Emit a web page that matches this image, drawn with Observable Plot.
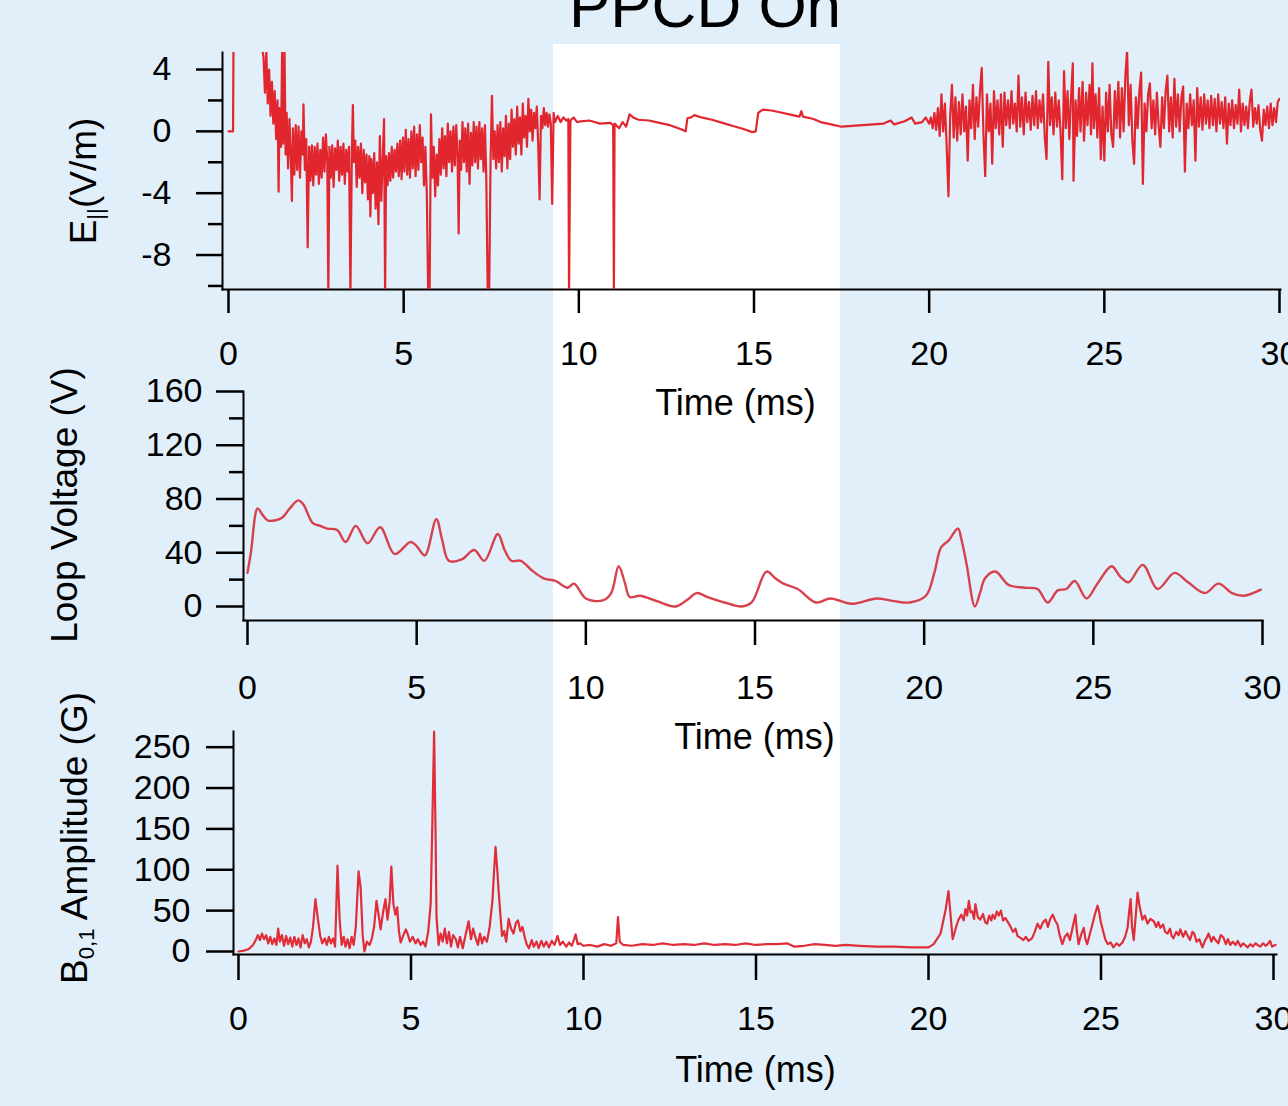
<!DOCTYPE html>
<html><head><meta charset="utf-8">
<script src="https://cdn.jsdelivr.net/npm/d3@7"></script>
<script src="https://cdn.jsdelivr.net/npm/@observablehq/plot@0.6"></script>
<style>
html,body{margin:0;padding:0;}
body{width:1288px;height:1106px;overflow:hidden;background:#e1effb;font-family:"Liberation Sans",Arial,sans-serif;}
#wrap{position:relative;width:1288px;height:1106px;overflow:hidden;}
#band{position:absolute;left:553px;top:44px;width:287px;height:908px;background:#fff;}
.p{position:absolute;left:0;top:0;}
.ylab{position:absolute;transform:translate(-50%,-50%) rotate(-90deg);white-space:nowrap;line-height:1;color:#000;font-size:37px;}
.ylab sub{font-size:0.6em;line-height:0;vertical-align:-0.32em;}
#title{position:absolute;left:705px;top:-25px;transform:translateX(-50%);font-size:62px;line-height:1;white-space:nowrap;color:#000;}
</style></head>
<body><div id="wrap">
<div id="band"></div>
<div id="title">PPCD On</div>
<div class="ylab" style="left:83px;top:181px;">E<sub>||</sub>(V/m)</div>
<div class="ylab" style="left:64px;top:505px;">Loop Voltage (V)</div>
<div class="ylab" style="left:74px;top:838px;">B<sub>0,1</sub> Amplitude (G)</div>
</div>
<script>
const timeTicks = [0,5,10,15,20,25,30];
const eTicks = [4,0,-4,-8];
const eMinor = [2,-2,-6,-10];
const vTicks = [0,40,80,120,160];
const vMinor = [20,60,100,140];
const bTicks = [0,50,100,150,200,250];

// E_parallel (V/m) vs time (ms)
const eField = [
[0,0],[0.13,0],[0.15,9],[0.9,9],[0.97,5.2],
[1.00,4.8],[1.04,2.5],[1.08,5.2],[1.12,1.8],[1.16,4.0],[1.20,1.0],[1.24,3.2],[1.28,0.5],[1.32,2.6],[1.36,-0.5],
[1.40,2.0],[1.43,-3.9],[1.46,1.5],[1.50,-1.0],[1.53,5.2],[1.56,-0.8],[1.60,5.2],[1.63,-1.5],[1.66,1.2],[1.70,-2.4],
[1.74,0.8],[1.78,-1.8],[1.81,-4.5],[1.84,0.2],[1.88,-2.8],[1.92,0.4],[1.96,-2.5],[2.00,0.3],[2.04,-3.0],[2.08,0.0],
[2.12,-1.5],[2.14,1.75],[2.18,-2.5],[2.22,-0.5],[2.26,-7.5],[2.30,-1.0],[2.34,-3.2],[2.38,-0.9],[2.42,-3.5],[2.46,-1.0],
[2.50,-2.8],[2.54,-0.8],[2.58,-3.4],[2.62,-1.2],[2.66,-3.0],[2.70,-0.4],[2.74,-2.6],[2.78,-0.2],[2.82,-2.0],[2.85,-10.5],
[2.88,-1.0],[2.92,-3.0],[2.96,-0.9],[3.00,-3.6],[3.04,-1.1],[3.08,-2.5],[3.12,-0.6],[3.16,-3.2],[3.20,-1.0],[3.24,-2.8],
[3.28,-0.8],[3.32,-3.4],[3.36,-1.2],[3.40,-2.6],[3.44,-1.0],[3.48,-10.5],[3.52,-1.5],[3.55,1.7],[3.58,-2.0],[3.62,-0.6],
[3.66,-3.6],[3.70,-1.0],[3.74,-3.0],[3.78,-0.8],[3.82,-4.0],[3.86,-1.2],[3.90,-3.3],[3.94,-1.5],[3.98,-4.4],[4.02,-1.6],
[4.05,-5.5],[4.08,-1.8],[4.12,-4.0],[4.16,-1.4],[4.20,-5.0],[4.24,-2.0],[4.28,-6.0],[4.32,-0.3],[4.36,-4.5],[4.40,-1.8],
[4.44,0.8],[4.47,-10.5],[4.50,-1.6],[4.54,-3.5],[4.58,-1.4],[4.62,-3.2],[4.66,-1.0],[4.70,-3.0],[4.74,-1.2],[4.78,-2.6],
[4.82,-0.8],[4.86,-2.9],[4.90,-0.6],[4.94,-3.1],[4.98,-0.4],[5.02,-2.6],[5.06,0.1],[5.10,-2.8],[5.14,-0.5],[5.18,-3.0],
[5.22,0.0],[5.26,-2.4],[5.30,0.3],[5.34,-2.9],[5.38,-0.2],[5.42,-2.5],[5.46,0.4],[5.50,-2.0],[5.54,-0.4],[5.58,-3.5],
[5.62,-1.0],[5.66,-4.0],[5.70,-10.5],[5.74,-10.5],[5.78,1.1],[5.82,-3.0],[5.86,-1.0],[5.90,-4.2],[5.94,-1.5],[5.98,-3.5],
[6.02,-0.5],[6.06,-2.8],[6.10,0.2],[6.14,-2.4],[6.18,-0.3],[6.22,-2.9],[6.26,0.5],[6.30,-2.0],[6.34,0.0],[6.38,-2.6],
[6.42,0.3],[6.46,-2.2],[6.50,0.4],[6.54,-1.8],[6.57,-6.6],[6.60,-0.6],[6.64,-2.5],[6.68,0.6],[6.72,-2.0],[6.76,0.2],
[6.80,-2.6],[6.84,0.5],[6.88,-3.4],[6.92,-0.1],[6.96,-2.2],[7.00,0.6],[7.04,-2.0],[7.08,0.3],[7.12,-2.4],[7.16,0.6],
[7.20,-1.8],[7.24,0.2],[7.28,-2.6],[7.32,0.4],[7.36,-3.2],[7.40,-10.5],[7.44,-10.5],[7.48,-2.0],[7.52,2.3],[7.56,-1.8],
[7.60,0.0],[7.64,-2.4],[7.68,0.4],[7.72,-2.0],[7.76,0.6],[7.80,-2.6],[7.84,0.2],[7.88,-1.6],[7.92,1.0],[7.96,-2.4],
[8.00,0.5],[8.04,-1.8],[8.08,1.4],[8.12,-1.0],[8.16,0.8],[8.20,-1.5],[8.24,1.6],[8.28,-0.8],[8.32,0.9],[8.36,-1.5],
[8.40,1.8],[8.44,-0.4],[8.48,1.0],[8.52,-1.0],[8.56,2.1],[8.60,0.0],[8.64,1.4],[8.68,-0.6],[8.72,1.2],[8.76,0.2],
[8.80,1.6],[8.84,-0.8],[8.88,-4.4],[8.92,1.0],[8.96,0.2],[9.00,1.5],[9.04,0.4],[9.08,1.2],[9.12,0.3],[9.16,1.1],
[9.20,0.5],[9.24,-4.7],[9.28,1.2],[9.32,0.6],[9.40,1.0],[9.48,0.6],[9.56,0.9],[9.64,0.7],[9.70,0.8],[9.72,-10.5],
[9.76,0.7],[9.85,0.9],[9.95,0.6],
[10.05,0.65],[10.3,0.7],[10.6,0.5],[10.9,0.55],[10.98,0.4],[11.0,-10.5],[11.02,0.5],[11.15,0.2],[11.25,0.6],[11.35,0.3],
[11.45,1.1],[11.55,0.9],[11.7,0.75],[12.0,0.7],[12.3,0.55],[12.6,0.4],[12.9,0.15],[13.05,0.0],[13.1,0.85],[13.2,0.9],
[13.3,1.05],[13.5,0.9],[13.8,0.75],[14.1,0.55],[14.4,0.35],[14.7,0.15],[14.95,-0.05],[15.05,0.0],[15.12,1.2],[15.25,1.4],
[15.5,1.35],[15.8,1.2],[16.1,1.05],[16.3,0.95],[16.35,1.3],[16.4,0.95],[16.7,0.8],[16.9,0.6],[17.2,0.45],[17.5,0.3],
[17.8,0.35],[18.1,0.4],[18.4,0.45],[18.7,0.5],[18.9,0.7],[19.0,0.45],[19.3,0.65],[19.5,0.9],[19.6,0.5],[19.8,0.6],
[19.9,0.9],[20.0,0.5],
[20.05,0.9],[20.10,0.2],[20.15,1.2],[20.20,0.1],[20.25,1.5],[20.30,-0.3],[20.35,2.4],[20.40,0.0],[20.45,1.8],[20.50,-1.0],
[20.55,-4.2],[20.60,1.0],[20.65,3.0],[20.70,-0.4],[20.75,2.2],[20.80,-0.6],[20.85,1.9],[20.90,-0.2],[20.95,2.4],[21.00,0.0],
[21.05,1.6],[21.10,-1.9],[21.15,2.0],[21.20,0.2],[21.25,3.0],[21.30,-0.5],[21.35,2.2],[21.40,0.3],[21.45,2.6],[21.50,4.1],
[21.55,-0.2],[21.60,-2.9],[21.65,2.4],[21.70,0.0],[21.75,1.8],[21.80,-2.1],[21.85,2.6],[21.90,0.2],[21.95,2.0],[22.00,-0.2],
[22.05,2.4],[22.10,-1.0],[22.15,2.5],[22.20,0.4],[22.25,2.0],[22.30,0.2],[22.35,2.6],[22.40,0.5],[22.45,1.8],[22.50,0.0],
[22.55,3.6],[22.60,0.3],[22.65,2.2],[22.70,-0.2],[22.75,2.5],[22.80,0.6],[22.85,1.9],[22.90,0.1],[22.95,2.3],[23.00,0.4],
[23.05,2.6],[23.10,0.2],[23.15,2.0],[23.20,0.6],[23.25,2.4],[23.30,-0.4],[23.35,-1.8],[23.40,4.5],[23.45,0.4],[23.50,2.2],
[23.55,-0.2],[23.60,2.5],[23.65,0.3],[23.70,2.0],[23.75,0.0],[23.80,-3.1],[23.85,3.9],[23.90,0.2],[23.95,2.6],[24.00,-0.5],
[24.05,2.2],[24.10,4.4],[24.12,-3.2],[24.18,2.0],[24.22,-0.3],[24.28,2.8],[24.32,0.0],[24.38,3.2],[24.42,-0.6],[24.48,2.5],
[24.52,0.4],[24.58,3.0],[24.62,-0.2],[24.66,4.4],[24.70,0.2],[24.75,2.4],[24.80,-0.4],[24.85,2.8],[24.90,-1.8],[24.95,1.6],
[25.00,-1.9],[25.05,2.5],[25.10,0.0],[25.15,3.0],[25.20,-0.2],[25.25,-1.0],[25.30,2.6],[25.35,0.2],[25.40,3.2],[25.45,-0.4],
[25.50,2.8],[25.55,0.0],[25.60,3.6],[25.65,5.2],[25.70,0.4],[25.75,3.0],[25.80,-0.6],[25.85,-2.1],[25.90,2.2],[25.95,0.2],
[26.00,2.6],[26.05,3.8],[26.10,-3.4],[26.15,1.8],[26.20,0.0],[26.25,2.4],[26.30,3.1],[26.35,0.2],[26.40,2.0],[26.45,-0.2],
[26.50,2.5],[26.55,0.4],[26.60,-1.0],[26.65,2.2],[26.70,0.2],[26.75,2.6],[26.80,3.6],[26.85,0.0],[26.90,2.2],[26.95,-0.4],
[27.00,3.4],[27.05,0.3],[27.10,2.4],[27.15,0.0],[27.20,2.2],[27.25,2.9],[27.30,-2.6],[27.35,1.8],[27.40,0.2],[27.45,2.4],
[27.50,0.4],[27.55,2.0],[27.60,-1.9],[27.65,2.8],[27.70,0.3],[27.75,2.2],[27.80,0.1],[27.85,2.4],[27.90,0.5],[27.95,2.0],
[28.00,0.2],[28.05,2.3],[28.10,0.4],[28.15,2.1],[28.20,0.0],[28.25,2.4],[28.30,0.5],[28.35,1.9],[28.40,0.2],[28.45,2.2],
[28.50,-0.8],[28.55,1.8],[28.60,0.4],[28.65,2.0],[28.70,0.2],[28.75,1.7],[28.80,0.5],[28.85,2.7],[28.90,0.0],[28.95,1.8],
[29.00,0.4],[29.05,1.6],[29.10,0.2],[29.15,1.9],[29.20,2.7],[29.25,0.3],[29.30,1.5],[29.35,0.5],[29.40,1.7],[29.45,0.1],
[29.50,-0.6],[29.55,1.4],[29.60,0.4],[29.65,1.6],[29.70,0.2],[29.75,1.8],[29.80,0.4],[29.85,1.5],[29.90,0.6],[29.95,1.9],
[30.00,2.1]
];

// Loop voltage (V) vs time (ms)
const loopV = [
[0,25],[0.1,40],[0.3,73],[0.45,68],[0.6,64],[0.8,64],[1.02,66],[1.25,73],[1.5,79],[1.65,76],[1.93,62],[2.15,60],
[2.35,58],[2.65,57],[2.9,48],[3.2,60],[3.55,47],[3.92,59],[4.35,39],[4.82,48],[5.0,45],[5.24,38],[5.58,65],[5.75,50],
[5.95,34],[6.33,35],[6.7,42],[7.0,34],[7.4,54],[7.6,42],[7.8,34],[8.08,34],[8.4,27],[8.75,21],[9.1,19],[9.46,14],
[9.65,17],[10.0,6],[10.5,4.5],[10.75,10],[10.97,30],[11.15,18],[11.3,7],[11.6,8],[12.1,4],[12.65,0],[13.0,5],[13.27,10],
[13.6,7],[14.1,3],[14.6,0],[14.9,3],[15.34,26],[15.6,21],[15.84,17],[16.26,13],[16.8,3],[17.23,6],[17.85,2],[18.6,6],
[19.1,4],[19.57,3],[20.05,8],[20.3,25],[20.5,44],[20.72,49],[21.0,58],[21.1,50],[21.25,32],[21.5,0],[21.65,10],[21.8,21],
[22.1,26],[22.5,16],[22.97,14],[23.35,13],[23.65,3],[23.95,12],[24.2,13],[24.45,19],[24.8,6],[25.12,17],[25.54,30],[25.8,22],
[26.04,18],[26.46,31],[26.9,13],[27.4,25],[27.8,18],[28.3,10],[28.7,17],[29.1,10],[29.45,8],[29.95,12.5]
];

// B_{0,1} amplitude (G) vs time (ms)
const bAmp = [
[0,0],[0.15,1],[0.3,3],[0.42,8],[0.5,14],[0.56,20],[0.62,14],[0.68,22],[0.74,15],[0.8,20],[0.86,10],[0.92,18],[0.98,9],
[1.04,16],[1.1,8],[1.15,28],[1.2,12],[1.26,20],[1.32,7],[1.38,19],[1.44,9],[1.5,17],[1.56,6],[1.62,18],[1.68,8],[1.74,16],
[1.8,5],[1.86,20],[1.92,10],[1.98,15],[2.04,5],[2.1,12],[2.16,30],[2.23,64],[2.3,40],[2.37,19],[2.43,10],[2.5,16],[2.56,8],
[2.62,18],[2.68,10],[2.74,16],[2.8,6],[2.87,105],[2.93,40],[2.99,8],[3.05,18],[3.1,6],[3.16,15],[3.22,4],[3.28,18],[3.34,8],
[3.4,30],[3.48,98],[3.54,78],[3.6,20],[3.65,0],[3.72,12],[3.8,8],[3.86,15],[3.93,30],[4.0,62],[4.06,45],[4.12,27],[4.19,48],
[4.26,64],[4.32,39],[4.38,60],[4.43,104],[4.49,58],[4.55,45],[4.6,54],[4.65,25],[4.7,11],[4.78,20],[4.85,27],[4.9,22],[4.97,12],
[5.05,18],[5.13,10],[5.2,15],[5.28,8],[5.35,12],[5.42,6],[5.5,25],[5.57,58],[5.62,160],[5.67,269],[5.71,150],[5.74,42],[5.8,8],
[5.86,22],[5.92,12],[5.98,28],[6.04,10],[6.1,24],[6.16,6],[6.22,20],[6.3,15],[6.36,5],[6.42,18],[6.5,4],[6.58,20],[6.67,37],
[6.74,15],[6.8,28],[6.87,17],[6.94,8],[7.0,22],[7.06,10],[7.12,18],[7.2,12],[7.28,30],[7.36,62],[7.41,100],[7.45,128],[7.5,100],
[7.54,74],[7.6,40],[7.64,19],[7.7,25],[7.76,12],[7.83,40],[7.9,28],[7.97,22],[8.04,35],[8.1,38],[8.17,25],[8.23,30],[8.3,17],
[8.36,8],[8.42,4],[8.5,14],[8.56,6],[8.64,12],[8.7,4],[8.78,13],[8.85,6],[8.92,12],[9.0,5],[9.08,13],[9.16,8],[9.25,19],
[9.32,8],[9.4,12],[9.5,6],[9.58,11],[9.66,7],[9.72,14],[9.77,21],[9.83,9],[9.9,10],[10.0,7],[10.2,8],[10.4,6],[10.6,9],
[10.8,7],[10.95,10],[11.0,42],[11.05,12],[11.15,8],[11.4,7],[11.7,9],[12.0,8],[12.3,10],[12.6,8],[12.9,9],[13.2,8],[13.5,10],
[13.8,8],[14.1,9],[14.4,8],[14.7,10],[15.0,8],[15.3,9],[15.6,9],[15.9,10],[16.1,6],[16.4,7],[16.7,9],[17.0,8],[17.3,7],
[17.6,8],[18.0,7],[18.5,6],[19.0,6],[19.5,5],[20.0,5],[20.15,9],[20.35,22],[20.5,52],[20.58,74],[20.7,15],[20.8,30],[20.87,39],
[20.95,45],[21.02,38],[21.07,52],[21.12,44],[21.17,62],[21.22,48],[21.27,49],[21.32,40],[21.36,58],[21.43,42],[21.5,39],
[21.58,46],[21.64,36],[21.7,34],[21.76,44],[21.82,38],[21.86,45],[21.92,40],[21.98,49],[22.04,44],[22.1,50],[22.16,38],
[22.23,41],[22.3,36],[22.37,31],[22.45,24],[22.52,28],[22.58,19],[22.66,17],[22.75,14],[22.82,18],[22.9,13],[23.0,16],
[23.08,24],[23.16,34],[23.24,28],[23.32,36],[23.4,39],[23.46,30],[23.53,40],[23.6,45],[23.67,38],[23.74,33],[23.8,20],
[23.88,9],[23.95,18],[24.03,22],[24.1,14],[24.18,30],[24.26,45],[24.3,25],[24.35,9],[24.42,20],[24.5,29],[24.55,15],[24.6,9],
[24.68,22],[24.75,33],[24.82,45],[24.9,56],[24.95,48],[24.99,37],[25.06,25],[25.13,14],[25.2,9],[25.28,11],[25.36,5],
[25.45,10],[25.53,7],[25.62,11],[25.7,18],[25.77,29],[25.82,50],[25.86,64],[25.9,30],[25.95,14],[26.0,40],[26.06,72],
[26.12,55],[26.2,39],[26.27,44],[26.35,34],[26.43,40],[26.53,37],[26.6,30],[26.66,36],[26.72,29],[26.8,33],[26.86,24],
[26.93,22],[27.0,28],[27.05,19],[27.1,16],[27.18,24],[27.25,20],[27.3,27],[27.38,18],[27.45,25],[27.5,20],[27.58,14],
[27.65,24],[27.7,22],[27.77,12],[27.85,15],[27.94,5],[28.02,14],[28.08,18],[28.12,22],[28.2,12],[28.26,18],[28.32,14],
[28.4,10],[28.47,20],[28.55,17],[28.62,9],[28.68,15],[28.75,8],[28.82,12],[28.9,8],[28.96,13],[29.05,6],[29.12,10],[29.2,7],
[29.25,5],[29.33,9],[29.4,6],[29.48,10],[29.54,8],[29.62,6],[29.7,10],[29.77,7],[29.83,9],[29.9,13],[29.96,6],[30.06,8]
];

const FONT = '"Liberation Sans", Arial, Helvetica, sans-serif';
const fmt = d => String(d);
const base = {width: 1288, height: 1106, style: {background: "transparent", fontFamily: FONT, color: "black", overflow: "visible"}};

function panel(cfg) {
  const marks = [
    Plot.frame({anchor: "left", stroke: "black", strokeWidth: 2}),
    Plot.frame({anchor: "bottom", stroke: "black", strokeWidth: 2}),
    Plot.axisY({ticks: cfg.yTicks, tickSize: cfg.ySize, tickPadding: cfg.yPad, tickFormat: fmt, fontSize: 34, strokeWidth: 2.5, stroke: "black", fill: "black", label: null}),
    Plot.axisX({ticks: timeTicks, tickSize: cfg.xSize, tickPadding: cfg.xPad, tickFormat: fmt, fontSize: 34, strokeWidth: 2.5, stroke: "black", fill: "black", label: null}),
    Plot.text(["Time (ms)"], {text: d => d, frameAnchor: "bottom", lineAnchor: "middle", dx: cfg.labDx, dy: cfg.labDy, fontSize: 36, fill: "black"}),
    Plot.line(cfg.data, {x: d => d[0], y: d => d[1], stroke: cfg.color, strokeWidth: cfg.sw, curve: cfg.curve || "linear", clip: cfg.clip || false})
  ];
  if (cfg.yMinor) marks.splice(3, 0, Plot.axisY({ticks: cfg.yMinor, tickSize: 14, strokeWidth: 2.5, stroke: "black", text: null, label: null}));
  const p = Plot.plot({
    ...base,
    marginLeft: cfg.ml, marginRight: cfg.mr, marginTop: cfg.mt, marginBottom: cfg.mb,
    x: {domain: [0, 30], range: cfg.xRange},
    y: {domain: cfg.yDomain, range: cfg.yRange},
    marks
  });
  p.classList.add("p");
  document.getElementById("wrap").appendChild(p);
}

panel({data: eField, color: "#e1262e", sw: 2.2, clip: true,
  ml: 222, mr: 8, mt: 52, mb: 1106 - 289,
  xRange: [228, 1279], yDomain: [-10.1, 5.1], yRange: [287, 52],
  yTicks: eTicks, yMinor: eMinor, ySize: 26, yPad: 25, xSize: 24, xPad: 27, labDx: -16, labDy: 114});

panel({data: loopV, color: "#d6414c", sw: 2.4, curve: "catmull-rom",
  ml: 243, mr: 26, mt: 391, mb: 1106 - 620,
  xRange: [247, 1262], yDomain: [0, 160], yRange: [606, 391],
  yTicks: vTicks, yMinor: vMinor, ySize: 27, yPad: 14, xSize: 25, xPad: 29, labDx: 1.5, labDy: 117});

panel({data: bAmp, color: "#e02d37", sw: 2.2,
  ml: 233, mr: 12, mt: 731, mb: 1106 - 954,
  xRange: [238, 1273], yDomain: [0, 259.4], yRange: [951, 739],
  yTicks: bTicks, ySize: 27, yPad: 16, xSize: 26, xPad: 25, labDx: 0.5, labDy: 116});
</script>
</body></html>
